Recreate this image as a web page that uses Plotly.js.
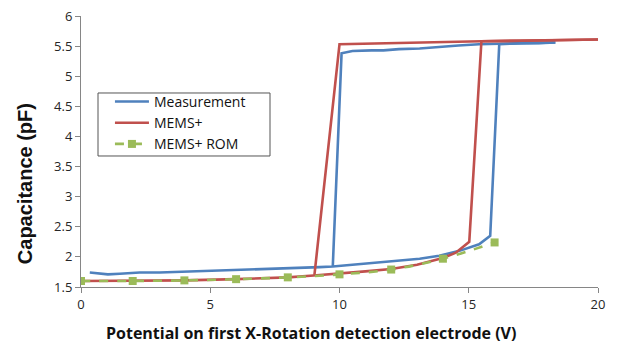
<!DOCTYPE html>
<html>
<head>
<meta charset="utf-8">
<script src="https://cdn.plot.ly/plotly-3.0.1.min.js"></script>
<style>html,body{margin:0;padding:0;background:#fff;}#chart{width:626px;height:355px;}</style>
</head>
<body>
<div id="chart"></div>
<script>
// Measurement: increasing sweep (low branch, jump up, high branch)
var measUpX = [0.34,0.7,1.04,1.5,2.27,3.04,3.82,4.6,5.36,6.14,6.9,7.68,8.45,9.23,9.74,10.0,10.77,11.55,12.3,13.1,13.86,14.64,15.4,15.83,16.18,17.0,17.7,18.35];
var measUpY = [1.74,1.72,1.71,1.72,1.74,1.74,1.75,1.76,1.77,1.78,1.80,1.81,1.81,1.83,1.84,1.85,1.88,1.90,1.94,1.97,2.02,2.10,2.21,2.35,5.53,5.55,5.55,5.56];
// Measurement: decreasing sweep (high branch, jump down)
var measDownX = [18.35,17.0,16.18,15.4,14.6,13.9,13.1,12.3,11.7,11.24,10.5,10.08,9.74];
var measDownY = [5.56,5.55,5.54,5.53,5.51,5.49,5.46,5.45,5.43,5.43,5.42,5.38,1.84];
// MEMS+: increasing sweep
var memsUpX = [0,2,4,6,8,9,10,11,12,13,14,14.5,15.02,15.49,17,20];
var memsUpY = [1.6,1.6,1.61,1.63,1.66,1.69,1.72,1.76,1.80,1.87,1.98,2.07,2.25,5.58,5.59,5.61];
// MEMS+: decreasing sweep
var memsDownX = [20,15.49,10,9.03];
var memsDownY = [5.61,5.58,5.53,1.70];
// MEMS+ ROM
var romX = [0,2,4,6,8,10,12,14,16];
var romY = [1.6,1.6,1.61,1.63,1.66,1.71,1.79,1.97,2.24];

var xTicks = [0,5,10,15,20];
var yTicks = [1.5,2,2.5,3,3.5,4,4.5,5,5.5,6];
var names = ['Measurement','MEMS+','MEMS+ ROM'];
var xTitle = 'Potential on first X-Rotation detection electrode (V)';
var yTitle = 'Capacitance (pF)';

var blue = '#4F81BD', red = '#C0504D', green = '#9BBB59';

var traces = [
  {x: measUpX, y: measUpY, mode:'lines', name:names[0], legendgroup:'m', line:{color:blue,width:2.6}},
  {x: measDownX, y: measDownY, mode:'lines', name:names[0], legendgroup:'m', showlegend:false, line:{color:blue,width:2.6}},
  {x: memsUpX, y: memsUpY, mode:'lines', name:names[1], legendgroup:'r', line:{color:red,width:2.6}},
  {x: memsDownX, y: memsDownY, mode:'lines', name:names[1], legendgroup:'r', showlegend:false, line:{color:red,width:2.6}},
  {x: romX, y: romY, mode:'lines+markers', name:names[2], line:{color:green,width:2.6,dash:'dash',shape:'spline'}, marker:{symbol:'square',size:8,color:green}}
];

var axisFont = {family:'Open Sans, sans-serif', size:13, color:'#262626'};
var layout = {
  width:626, height:355,
  margin:{l:81,r:28,t:16,b:68},
  paper_bgcolor:'#fff', plot_bgcolor:'#fff',
  showlegend:true,
  legend:{x:0.056, y:0.742, xanchor:'left', yanchor:'top', bgcolor:'rgba(0,0,0,0)', borderwidth:0,
          itemwidth:34, font:{family:'Open Sans, sans-serif', size:14, color:'#111'}, tracegroupgap:0},
  shapes:[{type:'rect', xref:'paper', yref:'paper', x0:0.0329, x1:0.3656, y0:0.4834, y1:0.7159,
           line:{color:'#555', width:1}, fillcolor:'#fff', layer:'above'}],
  annotations:[
    {text:xTitle, xref:'paper', yref:'paper', x:0.445, y:-0.170, xanchor:'center', yanchor:'middle', showarrow:false,
     font:{family:'Open Sans, sans-serif', size:16, color:'#111', weight:'bold'}},
    {text:yTitle, xref:'paper', yref:'paper', x:-0.108, y:0.380, xanchor:'center', yanchor:'middle', showarrow:false, textangle:-90,
     font:{family:'Liberation Sans, Arial, sans-serif', size:20, color:'#111', weight:'bold'}}
  ],
  xaxis:{range:[0,20], tickvals:xTicks, ticktext:xTicks.map(String), showgrid:false, zeroline:false,
         showline:true, linecolor:'#868686', linewidth:1, ticks:'outside', ticklen:5, tickcolor:'#868686',
         tickfont:axisFont},
  yaxis:{range:[1.5,6], tickvals:yTicks, ticktext:yTicks.map(String), showgrid:false, zeroline:false,
         showline:true, linecolor:'#868686', linewidth:1, ticks:'outside', ticklen:5, tickcolor:'#868686',
         tickfont:axisFont}
};

Plotly.newPlot('chart', traces, layout, {displayModeBar:false, staticPlot:true});
</script>
</body>
</html>
